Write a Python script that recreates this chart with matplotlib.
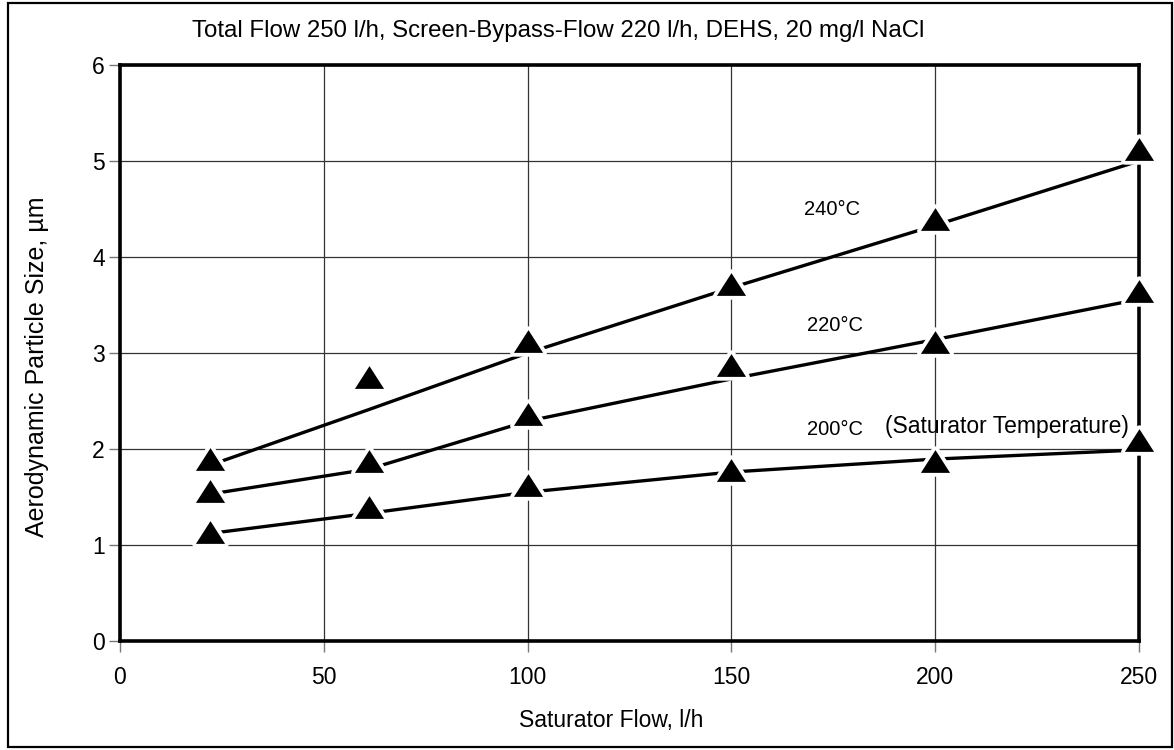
import numpy as np
import matplotlib
matplotlib.use("Agg")
import matplotlib.pyplot as plt
from matplotlib.markers import MarkerStyle
from matplotlib.path import Path
from matplotlib.patches import Rectangle

plt.rcParams['font.family'] = ['Liberation Sans', 'DejaVu Sans']

# Saturator flow settings (l/h)
flow = [22, 61, 100, 150, 200, 250]

# Measured aerodynamic particle size (µm) per saturator temperature
size_240 = [1.90, 2.75, 3.13, 3.72, 4.40, 5.12]
size_220 = [1.56, 1.87, 2.36, 2.87, 3.11, 3.65]
size_200 = [1.14, 1.40, 1.62, 1.78, 1.88, 2.09]

# Smoothed trend values at the same flows
trend_240 = [1.83, 2.41, 3.00, 3.68, 4.33, 5.00]
trend_220 = [1.53, 1.79, 2.29, 2.73, 3.14, 3.56]
trend_200 = [1.12, 1.33, 1.55, 1.76, 1.895, 1.99]

x_ticks = [0, 50, 100, 150, 200, 250]
y_ticks = [0, 1, 2, 3, 4, 5, 6]

title = "Total Flow 250 l/h, Screen-Bypass-Flow 220 l/h, DEHS, 20 mg/l NaCl"
x_label = "Saturator Flow, l/h"
y_label = "Aerodynamic Particle Size, µm"

W, H = 1174, 750
fig = plt.figure(figsize=(W / 100, H / 100), dpi=100)
ax = fig.add_axes([120 / W, 1 - 641 / H, (1139 - 120) / W, (641 - 65) / H])

ax.set_xlim(0, 250)
ax.set_ylim(0, 6)
ax.set_xticks(x_ticks)
ax.set_yticks(y_ticks)
ax.grid(True, color='#333333', linewidth=0.9, zorder=1)
ax.set_axisbelow(True)

for s in ax.spines.values():
    s.set_linewidth(2.6)
    s.set_color('black')
    s.set_zorder(2.5)

ax.tick_params(axis='both', colors='#777777', length=8, width=1.0,
               labelcolor='black', labelsize=16.5)
ax.tick_params(axis='x', pad=10)
ax.tick_params(axis='y', pad=3)

# Wide, flat triangle marker
tri = Path([(-1, -0.78), (1, -0.78), (0, 0.78), (-1, -0.78)],
           [Path.MOVETO, Path.LINETO, Path.LINETO, Path.CLOSEPOLY])
halo = MarkerStyle(tri, joinstyle='round')
solid = MarkerStyle(tri)

for trend, meas in [(trend_240, size_240), (trend_220, size_220), (trend_200, size_200)]:
    ax.plot(flow, trend, color='black', linewidth=2.4, solid_capstyle='butt', zorder=3)
    ax.plot(flow, meas, linestyle='none', marker=halo, markersize=21,
            markerfacecolor='white', markeredgecolor='white', markeredgewidth=5.5,
            zorder=4, clip_on=False)
    ax.plot(flow, meas, linestyle='none', marker=solid, markersize=21,
            markerfacecolor='black', markeredgewidth=0, zorder=5, clip_on=False)

ax.text(174.6, 4.49, "240°C", fontsize=14.5, ha='center', va='center')
ax.text(175.5, 3.29, "220°C", fontsize=14.5, ha='center', va='center')
ax.text(175.5, 2.20, "200°C", fontsize=14.5, ha='center', va='center')
ax.text(217.6, 2.23, "(Saturator Temperature)", fontsize=16.5, ha='center', va='center')

fig.text(558 / W, 1 - 31 / H, title, fontsize=17.3, ha='center', va='center')
fig.text(611 / W, 1 - 720 / H, x_label, fontsize=16.5, ha='center', va='center')
fig.text(37 / W, 1 - 367 / H, y_label, fontsize=18, ha='center', va='center',
         rotation=90)

fig.patches.append(Rectangle((8 / W, 3 / H), (1172 - 8) / W, (747 - 3) / H,
                             transform=fig.transFigure, fill=False,
                             edgecolor='black', linewidth=1.6))

fig.savefig("out.png", dpi=100)
